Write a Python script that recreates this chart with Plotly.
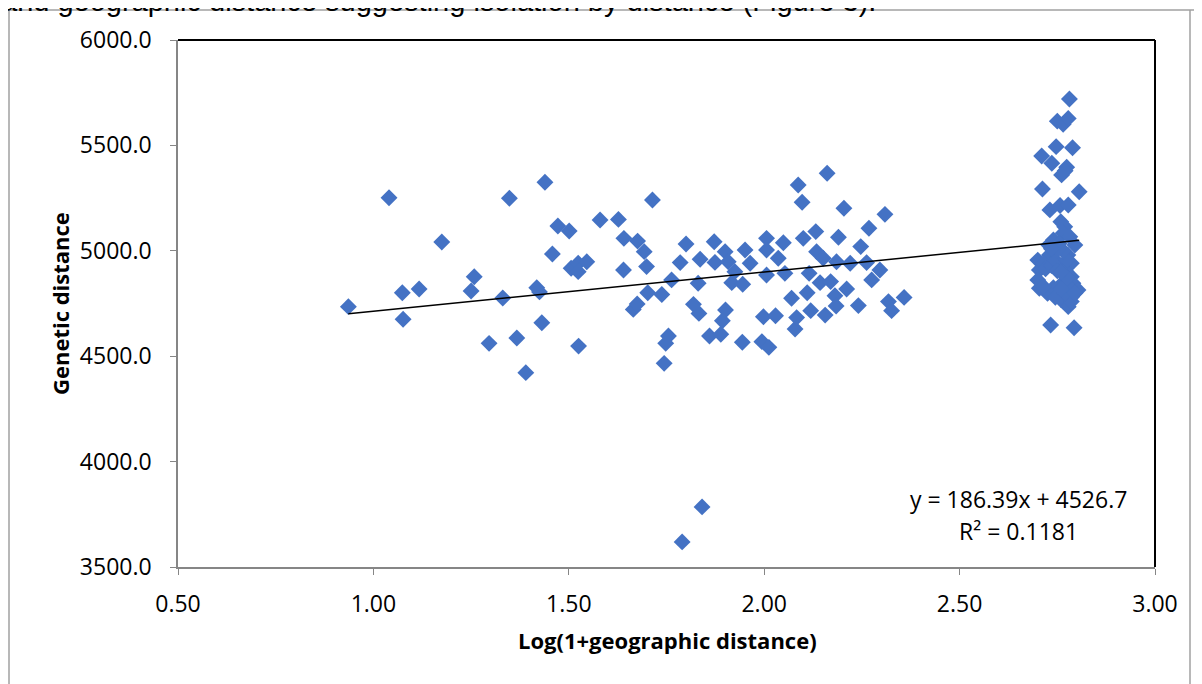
import plotly.graph_objects as go

# ---- data ----
geo_log = [
    0.936, 1.040, 1.074, 1.076, 1.117, 1.175, 1.250, 1.258, 1.296, 1.331,
    1.348, 1.367, 1.390, 1.418, 1.425, 1.431, 1.439, 1.458, 1.472, 1.501,
    1.506, 1.524, 1.546, 1.524, 1.525, 1.580,
    1.627, 1.640, 1.641, 1.665, 1.675, 1.676, 1.693, 1.699, 1.702, 1.714,
    1.738, 1.744, 1.748, 1.755, 1.763, 1.785, 1.790, 1.800, 1.819, 1.831,
    1.833, 1.836, 1.841, 1.860, 1.872, 1.874, 1.889, 1.893, 1.900, 1.901,
    1.908, 1.917, 1.925, 1.944, 1.945, 1.951, 1.964, 1.994, 1.998, 2.006,
    2.006, 2.006, 2.012, 2.029, 2.036, 2.049, 2.053, 2.070, 2.079, 2.083,
    2.087, 2.097, 2.100, 2.110, 2.115, 2.119, 2.132, 2.134, 2.143, 2.151,
    2.156, 2.161, 2.170, 2.181, 2.184, 2.185, 2.190, 2.204, 2.211, 2.220,
    2.241, 2.247, 2.262, 2.268, 2.275, 2.296, 2.309, 2.318, 2.326, 2.358,
    2.781, 2.750, 2.765, 2.778, 2.747, 2.789, 2.710, 2.736, 2.774, 2.770,
    2.761, 2.712, 2.806, 2.731, 2.757, 2.778, 2.759, 2.769, 2.765, 2.740,
    2.782, 2.728, 2.795, 2.755, 2.700, 2.730, 2.777, 2.786, 2.704, 2.760,
    2.700, 2.786, 2.704, 2.725, 2.768, 2.790, 2.760, 2.778, 2.803, 2.787,
    2.786, 2.733, 2.793,
    2.715, 2.720, 2.735, 2.745, 2.750, 2.760, 2.740, 2.770, 2.775, 2.765,
    2.750, 2.735, 2.745, 2.770, 2.780, 2.795, 2.715, 2.760, 2.775, 2.760,
]
genetic = [
    4735, 5252, 4801, 4675, 4819, 5042, 4809, 4877, 4561, 4776,
    5249, 4586, 4422, 4825, 4805, 4659, 5325, 4985, 5118, 5094,
    4917, 4941, 4948, 4901, 4548, 5146,
    5149, 4909, 5059, 4722, 4748, 5046, 4996, 4925, 4801, 5241,
    4793, 4466, 4561, 4596, 4862, 4944, 3619, 5032, 4746, 4846,
    4703, 4960, 3785, 4596, 5043, 4945, 4604, 4668, 4996, 4719,
    4948, 4849, 4901, 4566, 4841, 5004, 4941, 4569, 4687, 5059,
    5004, 4885, 4542, 4692, 4965, 5038, 4893, 4775, 4629, 4683,
    5312, 5230, 5059, 4801, 4893, 4716, 5091, 4996, 4849, 4965,
    4695, 5368, 4854, 4787, 4738, 4948, 5064, 5202, 4819, 4941,
    4740, 5020, 4944, 5107, 4862, 4909, 5173, 4759, 4716, 4779,
    5720, 5615, 5600, 5628, 5494, 5489, 5450, 5415, 5396, 5380,
    5360, 5293, 5280, 5194, 5215, 5217, 5138, 5114, 5083, 5051,
    5067, 5027, 5027, 5035, 4956, 4980, 4980, 4941, 4909, 4925,
    4862, 4877, 4822, 4798, 4846, 4846, 4767, 4735, 4814, 4782,
    4759, 4648, 4635,
    4940, 4915, 4930, 4955, 4905, 4840, 4825, 4905, 4955, 5000,
    5005, 5010, 4780, 4800, 4830, 4800, 4830, 4820, 4870, 4900,
]

slope = 186.39
intercept = 4526.7
r_squared = 0.1181

x_ticks = [0.5, 1.0, 1.5, 2.0, 2.5, 3.0]
x_tick_text = ["0.50", "1.00", "1.50", "2.00", "2.50", "3.00"]
y_ticks = [3500, 4000, 4500, 5000, 5500, 6000]
y_tick_text = ["3500.0", "4000.0", "4500.0", "5000.0", "5500.0", "6000.0"]

x_title = "Log(1+geographic distance)"
y_title = "Genetic distance"
page_text = "and geographic distance suggesting isolation by distance (Figure 3)."

# ---- figure ----
FONT = "Open Sans"
x_min, x_max = min(geo_log), max(geo_log)

fig = go.Figure()
fig.add_trace(go.Scatter(
    x=geo_log, y=genetic, mode="markers",
    marker=dict(symbol="diamond", size=13, color="#4472C4", line=dict(width=0)),
    showlegend=False, hoverinfo="x+y",
))
fig.add_trace(go.Scatter(
    x=[x_min, x_max], y=[slope * x_min + intercept, slope * x_max + intercept],
    mode="lines", line=dict(color="black", width=1.5), showlegend=False,
    hoverinfo="skip",
))

axis_common = dict(
    showgrid=False, zeroline=False, showline=True, linecolor="#868686",
    linewidth=1.5, ticks="outside", ticklen=6, tickcolor="#868686",
    tickwidth=1.2, tickfont=dict(family=FONT, size=23, color="black"),
    mirror=False,
)
fig.update_xaxes(range=[0.5, 3.0], tickvals=x_ticks, ticktext=x_tick_text,
                 ticklabelstandoff=10, **axis_common)
fig.update_yaxes(range=[3500, 6000], tickvals=y_ticks, ticktext=y_tick_text,
                 ticklabelstandoff=14, **axis_common)

# helpers: screen pixel -> paper coords (page body has an 8px margin)
PW, PH = 977.0, 527.0
def px(xp):
    return (xp - 178) / PW
def py(yp):
    return (567 - yp) / PH

shapes = [
    # plot-area border top & right (black)
    dict(type="line", xref="paper", yref="paper", x0=0, x1=1, y0=1, y1=1,
         line=dict(color="black", width=2)),
    dict(type="line", xref="paper", yref="paper", x0=1, x1=1, y0=0, y1=1,
         line=dict(color="black", width=2)),
    # outer chart frame (light gray)
    dict(type="line", xref="paper", yref="paper", x0=px(9), x1=px(9),
         y0=py(10), y1=py(720), line=dict(color="#a0a0a0", width=1.5)),
    dict(type="line", xref="paper", yref="paper", x0=px(9), x1=px(1210),
         y0=py(10), y1=py(10), line=dict(color="#a0a0a0", width=1.5)),
    dict(type="line", xref="paper", yref="paper", x0=px(1190), x1=px(1190),
         y0=py(10), y1=py(720), line=dict(color="#a0a0a0", width=1.5)),
]

annotations = [
    dict(text=f"<b>{x_title}</b>", xref="paper", yref="paper", x=px(667),
         y=py(640), xanchor="center", yanchor="middle", showarrow=False,
         font=dict(family=FONT, size=22, color="black")),
    dict(text=f"<b>{y_title}</b>", xref="paper", yref="paper", x=px(60),
         y=py(304), xanchor="center", yanchor="middle", showarrow=False,
         textangle=-90, font=dict(family=FONT, size=22, color="black")),
    dict(text=f"y = {slope}x + {intercept}", xref="paper", yref="paper",
         x=px(1018), y=py(499), xanchor="center", yanchor="middle",
         showarrow=False, font=dict(family=FONT, size=23, color="black")),
    dict(text=f"R² = {r_squared}", xref="paper", yref="paper",
         x=px(1018), y=py(531), xanchor="center", yanchor="middle",
         showarrow=False, font=dict(family=FONT, size=23, color="black")),
    dict(text=page_text, xref="paper", yref="paper", x=px(-1), y=py(1),
         xanchor="left", yanchor="middle", showarrow=False,
         font=dict(family="Liberation Sans, Arial", size=29, color="black")),
]

fig.update_layout(
    width=1202, height=684, autosize=False,
    margin=dict(l=170, r=55, t=32, b=125, pad=0),
    plot_bgcolor="white", paper_bgcolor="white",
    shapes=shapes, annotations=annotations,
    font=dict(family=FONT),
)

fig.write_html("out.html")
